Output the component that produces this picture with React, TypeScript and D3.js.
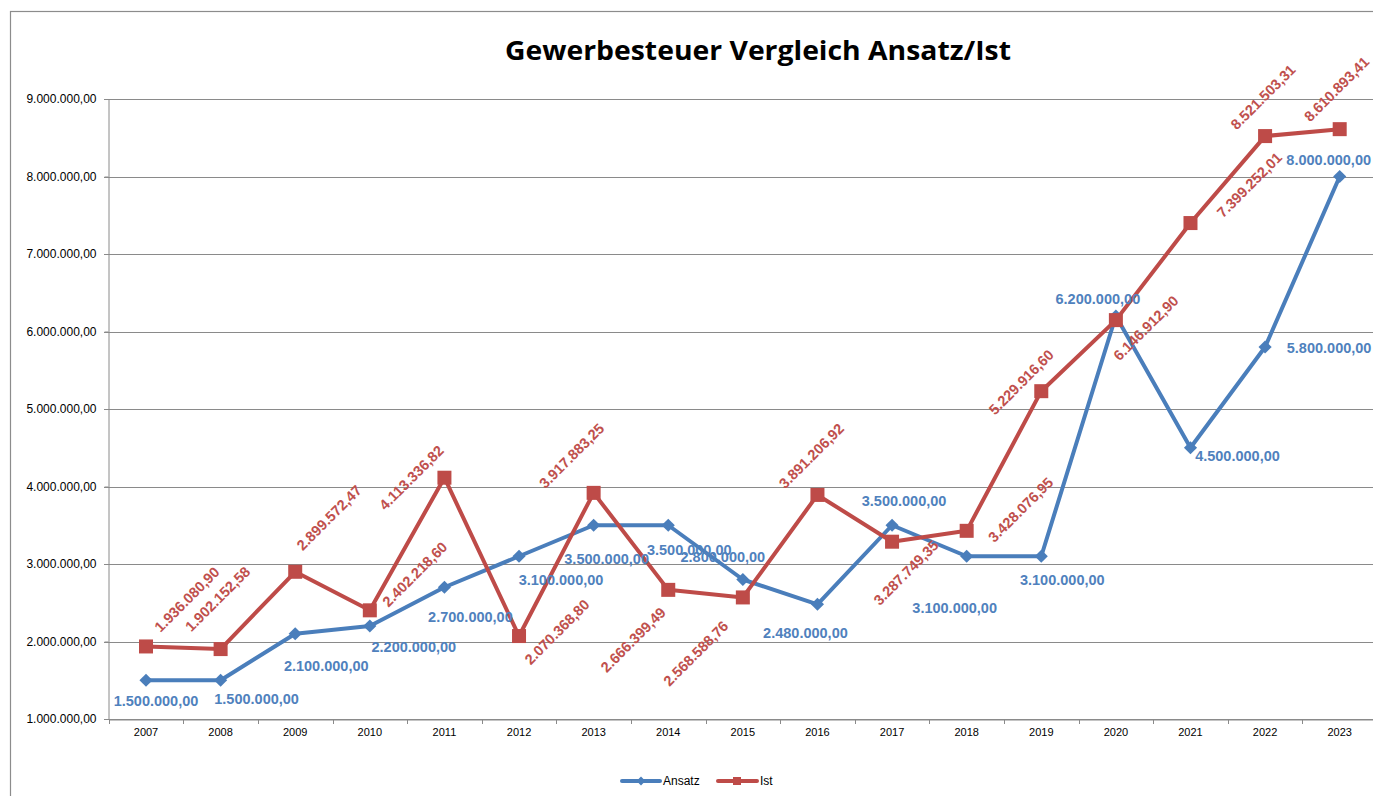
import React, { useEffect, useRef } from 'react';
import * as d3 from 'd3';

// Gewerbesteuer: Ansatz vs. Ist, 2007-2023
const years = ['2007', '2008', '2009', '2010', '2011', '2012', '2013', '2014', '2015', '2016', '2017', '2018', '2019', '2020', '2021', '2022', '2023'];
const ansatz = [1500000, 1500000, 2100000, 2200000, 2700000, 3100000, 3500000, 3500000, 2800000, 2480000, 3500000, 3100000, 3100000, 6200000, 4500000, 5800000, 8000000];
const ist = [1936080.9, 1902152.58, 2899572.47, 2402218.6, 4113336.82, 2070368.8, 3917883.25, 2666399.49, 2568588.76, 3891206.92, 3287749.35, 3428076.95, 5229916.6, 6146912.9, 7399252.01, 8521503.31, 8610893.41];
const yTicks = [1000000, 2000000, 3000000, 4000000, 5000000, 6000000, 7000000, 8000000, 9000000];

// hand placed data labels (like in the Excel original), offsets from the point
const ansatzLabelPos = [[10, 21], [36, 19], [31, 32], [44, 21], [26, 30], [42, 24], [13, 34], [21, 25], [-20, -23], [-12, 29], [12, -24], [-12, 52], [21, 24], [-18, -17], [47, 8], [64, 1], [-11, -17]];
const istLabelPos = [[41, -47], [-3, -50], [34, -54], [45, -36], [-33, 0], [38, -4], [-22, -37], [-35, 50], [-47, 56], [-6, -39], [14, 31], [54, -21], [-20, -9], [30, 8], [59, -38], [-2, -39], [-3, -40]];

const de = d3.formatLocale({ decimal: ',', thousands: '.', grouping: [3], currency: ['', '€'] });
const fmt = de.format(',.2f');

const BLUE = '#4a7ebb';
const RED = '#be4b48';
const FONT = '"Liberation Sans", Arial, sans-serif';

const App = () => {
  const svgRef = useRef(null);

  useEffect(() => {
    const width = 1373;
    const height = 796;
    const svg = d3.select(svgRef.current);
    svg.selectAll('*').remove();

    const x = d3.scaleBand().domain(years).range([108.7, 1377]);
    const y = d3.scaleLinear().domain([1000000, 9000000]).range([719, 99]);
    const cx = (d) => x(d) + x.bandwidth() / 2;

    // outer chart frame
    svg.append('rect')
      .attr('x', 10.5).attr('y', 11.5)
      .attr('width', width + 20).attr('height', height + 20)
      .attr('fill', 'none').attr('stroke', '#8c8c8c').attr('stroke-width', 1.2);

    // title
    svg.append('text')
      .attr('x', 758).attr('y', 60)
      .attr('text-anchor', 'middle')
      .style('font-family', '"Open Sans", sans-serif').style('font-weight', 'bold').style('font-size', '27px')
      .attr('textLength', 506).attr('lengthAdjust', 'spacingAndGlyphs')
      .text('Gewerbesteuer Vergleich Ansatz/Ist');

    // gridlines
    svg.append('g').selectAll('line')
      .data(yTicks)
      .enter().append('line')
      .attr('x1', 104).attr('x2', width)
      .attr('y1', (d) => Math.round(y(d)) + 0.5).attr('y2', (d) => Math.round(y(d)) + 0.5)
      .attr('stroke', '#8a8a8a').attr('stroke-width', 1);

    // y axis
    const yAxis = svg.append('g')
      .attr('transform', 'translate(108.5,0)')
      .call(d3.axisLeft(y).tickValues(yTicks).tickSize(4).tickFormat((d) => fmt(d)));
    yAxis.select('.domain').attr('stroke', '#8a8a8a');
    yAxis.selectAll('.tick line').attr('stroke', '#8a8a8a');
    yAxis.selectAll('.tick text')
      .attr('x', -12)
      .style('font-family', FONT).style('font-size', '12px').attr('fill', '#000');

    // x axis
    const xAxis = svg.append('g')
      .attr('transform', 'translate(0,719.5)')
      .call(d3.axisBottom(x).tickSize(0));
    xAxis.select('.domain').attr('stroke', '#8a8a8a');
    xAxis.selectAll('.tick text')
      .attr('dy', '1.25em')
      .style('font-family', FONT).style('font-size', '11px').attr('fill', '#000');
    svg.append('g').selectAll('line')
      .data(years.concat(['end']))
      .enter().append('line')
      .attr('x1', (d, i) => Math.round(x.range()[0] + i * x.bandwidth()) + 0.5)
      .attr('x2', (d, i) => Math.round(x.range()[0] + i * x.bandwidth()) + 0.5)
      .attr('y1', 719).attr('y2', 724)
      .attr('stroke', '#8a8a8a');

    const line = d3.line().x((d) => cx(d[0])).y((d) => y(d[1]));

    // Ansatz series
    svg.append('path')
      .datum(years.map((yr, i) => [yr, ansatz[i]]))
      .attr('d', line)
      .attr('fill', 'none').attr('stroke', BLUE).attr('stroke-width', 4).attr('stroke-linejoin', 'round');
    svg.append('g').selectAll('path')
      .data(ansatz)
      .enter().append('path')
      .attr('d', d3.symbol(d3.symbolDiamond2, 110)())
      .attr('transform', (d, i) => `translate(${cx(years[i])},${y(d)})`)
      .attr('fill', BLUE);

    // Ist series
    svg.append('path')
      .datum(years.map((yr, i) => [yr, ist[i]]))
      .attr('d', line)
      .attr('fill', 'none').attr('stroke', RED).attr('stroke-width', 4).attr('stroke-linejoin', 'round');
    svg.append('g').selectAll('rect')
      .data(ist)
      .enter().append('rect')
      .attr('x', (d, i) => cx(years[i]) - 7)
      .attr('y', (d) => y(d) - 7)
      .attr('width', 14).attr('height', 14)
      .attr('fill', RED);

    // data labels
    svg.append('g').selectAll('text')
      .data(ansatz)
      .enter().append('text')
      .attr('x', (d, i) => cx(years[i]) + ansatzLabelPos[i][0])
      .attr('y', (d, i) => y(d) + ansatzLabelPos[i][1])
      .attr('text-anchor', 'middle').attr('dominant-baseline', 'central')
      .style('font-family', FONT).style('font-weight', 'bold').style('font-size', '14.5px')
      .attr('fill', '#4f81bd')
      .text((d) => fmt(d));

    svg.append('g').selectAll('text')
      .data(ist)
      .enter().append('text')
      .attr('transform', (d, i) => `translate(${cx(years[i]) + istLabelPos[i][0]},${y(d) + istLabelPos[i][1]}) rotate(-45)`)
      .attr('text-anchor', 'middle').attr('dominant-baseline', 'central')
      .style('font-family', FONT).style('font-weight', 'bold').style('font-size', '14.5px')
      .attr('fill', '#c0504d')
      .text((d) => fmt(d));

    // legend
    const legend = svg.append('g').attr('transform', 'translate(0,781)');
    legend.append('line').attr('x1', 622).attr('x2', 660).attr('y1', 0).attr('y2', 0)
      .attr('stroke', BLUE).attr('stroke-width', 4).attr('stroke-linecap', 'round');
    legend.append('path').attr('d', d3.symbol(d3.symbolDiamond2, 50)())
      .attr('transform', 'translate(641,0)').attr('fill', BLUE);
    legend.append('text').attr('x', 663).attr('y', 0).attr('dominant-baseline', 'central')
      .style('font-family', FONT).style('font-size', '12px').text('Ansatz');
    legend.append('line').attr('x1', 718).attr('x2', 757).attr('y1', 0).attr('y2', 0)
      .attr('stroke', RED).attr('stroke-width', 4).attr('stroke-linecap', 'round');
    legend.append('rect').attr('x', 733).attr('y', -4).attr('width', 8).attr('height', 8).attr('fill', RED);
    legend.append('text').attr('x', 760).attr('y', 0).attr('dominant-baseline', 'central')
      .style('font-family', FONT).style('font-size', '12px').text('Ist');
  }, []);

  return (
    <svg
      ref={svgRef}
      width={1373}
      height={796}
      style={{ position: 'absolute', left: 0, top: 0, background: '#fff' }}
    ></svg>
  );
};

export default App;
